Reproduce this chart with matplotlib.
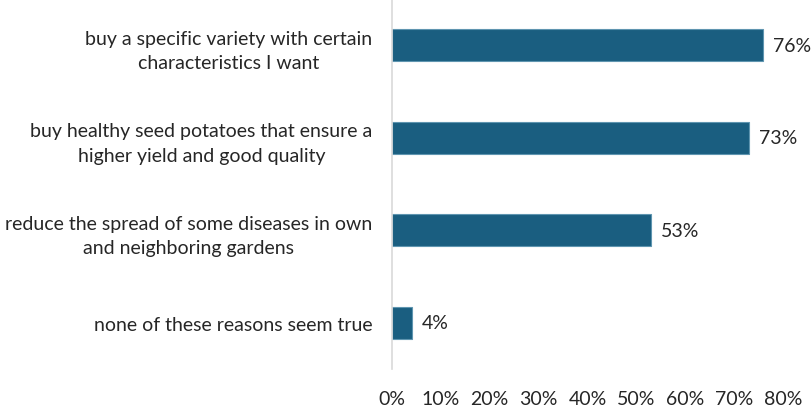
import matplotlib
matplotlib.use("Agg")
import matplotlib.pyplot as plt

categories = [
    "buy a specific variety with certain\ncharacteristics I want",
    "buy healthy seed potatoes that ensure a\nhigher yield and good quality",
    "reduce the spread of some diseases in own\nand neighboring gardens",
    "none of these reasons seem true",
]
values = [76, 73, 53, 4]
xticks = [0, 10, 20, 30, 40, 50, 60, 70, 80]

plt.rcParams['font.family'] = ['Lato', 'DejaVu Sans']

fig = plt.figure(figsize=(8.11, 4.10), dpi=100)
ax = fig.add_axes([392 / 811, 40 / 410, 391 / 811, 370 / 410])

pos = list(range(len(categories)))
ax.barh(pos, values, height=0.35, color="#1a5e80", edgecolor="#5f95b0", linewidth=0.8)
ax.set_ylim(3.5, -0.5)
ax.set_xlim(0, 80)

for p, v in zip(pos, values):
    ax.text(v + 2, p, f"{v}%", va="center", ha="left", fontsize=14, color="#262626")

ax.set_yticks(pos)
ax.set_yticklabels(categories, fontsize=14, color="#262626", multialignment="center",
                   linespacing=1.55)
ax.tick_params(axis="y", length=0, pad=14)
ax.set_xticks(xticks)
ax.set_xticklabels([f"{t}%" for t in xticks], fontsize=14, color="#262626")
ax.tick_params(axis="x", length=0, pad=15)

for s in ["top", "right", "bottom"]:
    ax.spines[s].set_visible(False)
ax.spines["left"].set_color("#d9d9d9")
ax.spines["left"].set_linewidth(1.2)

fig.savefig("out.png", dpi=100)
